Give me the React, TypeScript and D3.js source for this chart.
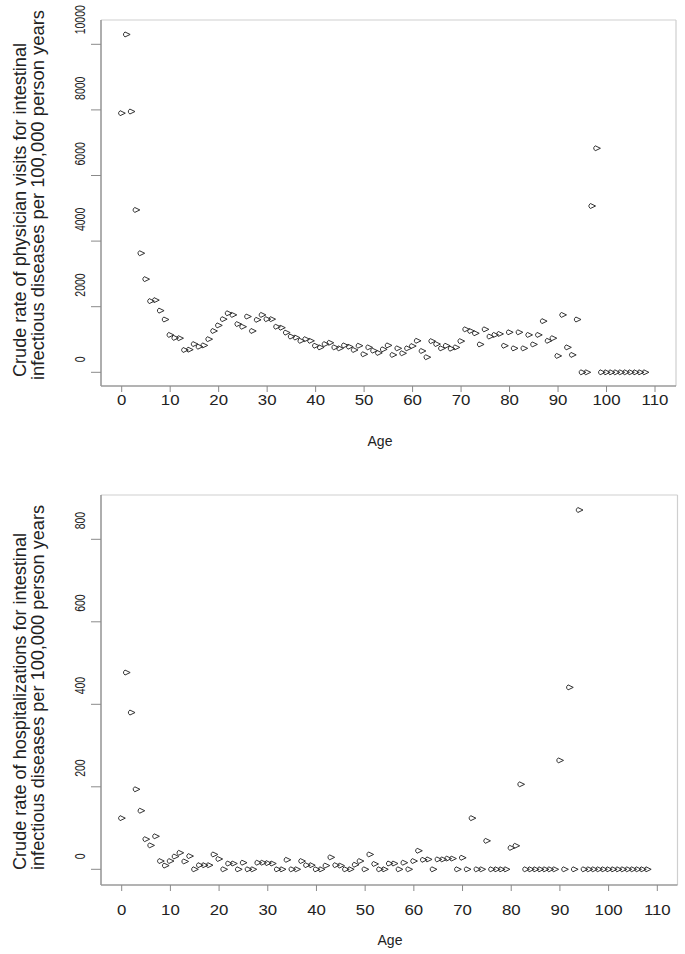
import React from "react";
import * as d3 from "d3";

const ages: number[] = Array.from({ length: 109 }, (_, i) => i);

const visitRates = [
  7900, 10300, 7950, 4950, 3630, 2840, 2170, 2200, 1880, 1610,
  1140, 1050, 1040, 680, 690, 860, 780, 820, 1010, 1260,
  1430, 1620, 1800, 1750, 1470, 1390, 1700, 1260, 1600, 1750,
  1620, 1620, 1390, 1360, 1210, 1090, 1060, 960, 1010, 960,
  810, 760, 860, 900, 760, 730, 820, 780, 680, 810,
  550, 760, 660, 590, 700, 820, 530, 730, 580, 730,
  800, 960, 650, 460, 950, 860, 730, 810, 720, 760,
  950, 1310, 1260, 1190, 850, 1310, 1090, 1140, 1170, 810,
  1220, 730, 1220, 730, 1140, 850, 1140, 1560, 960, 1040,
  500, 1750, 760, 530, 1610, 0, 0, 5070, 6830, 0,
  0, 0, 0, 0, 0, 0, 0, 0, 0,
];

const hospRates = [
  124, 477, 380, 194, 142, 73, 58, 80, 20, 9,
  20, 31, 40, 19, 32, 0, 10, 10, 10, 36,
  25, 0, 14, 14, 0, 16, 0, 0, 16, 16,
  15, 14, 0, 0, 23, 0, 0, 20, 10, 10,
  0, 0, 9, 29, 10, 9, 0, 0, 11, 20,
  0, 36, 13, 0, 0, 14, 14, 0, 16, 0,
  20, 45, 23, 24, 0, 24, 24, 26, 26, 0,
  28, 0, 124, 0, 0, 69, 0, 0, 0, 0,
  52, 57, 206, 0, 0, 0, 0, 0, 0, 0,
  264, 0, 441, 0, 871, 0, 0, 0, 0, 0,
  0, 0, 0, 0, 0, 0, 0, 0, 0,
];

const xTicks = [0, 10, 20, 30, 40, 50, 60, 70, 80, 90, 100, 110];
const visitTicks = [0, 2000, 4000, 6000, 8000, 10000];
const hospTicks = [0, 200, 400, 600, 800];

const visitTitle = [
  "Crude rate of physician visits for intestinal",
  "infectious diseases per 100,000 person years",
];
const hospTitle = [
  "Crude rate of hospitalizations for intestinal",
  "infectious diseases per 100,000 person years",
];
const xTitle = "Age";

const FONT = "Liberation Sans, Arial, Helvetica, sans-serif";
const TEXT = "#222";
const MARK = "#333";

const markerPath = "M-3,-0.8 L-1.6,-2.5 L3.6,0 L-1.6,2.5 L-3,0.8 Z";

type PanelProps = {
  values: number[];
  yTicks: number[];
  yDomain: [number, number];
  yRange: [number, number];
  xRange: [number, number];
  box: { left: number; top: number; right: number; bottom: number };
  title: string[];
  titleStart: [number, number];
  titleLen: [number, number];
  titleX: [number, number];
  tickLabelBaseline: number;
  ageX: number;
  ageY: number;
};

function Panel(p: PanelProps) {
  const x = d3.scaleLinear().domain([0, 110]).range(p.xRange);
  const y = d3.scaleLinear().domain(p.yDomain).range(p.yRange);
  const { left, top, right, bottom } = p.box;
  return (
    <g>
      <line x1={left} y1={top} x2={right} y2={top} stroke="#cfcfcf" strokeWidth={1.2} />
      <line x1={right} y1={top} x2={right} y2={bottom} stroke="#cfcfcf" strokeWidth={1.2} />
      <line x1={left} y1={top} x2={left} y2={bottom} stroke="#9a9a9a" strokeWidth={1.6} />
      <line x1={left} y1={bottom} x2={right} y2={bottom} stroke="#9a9a9a" strokeWidth={1.6} />
      {p.yTicks.map((t) => (
        <g key={"y" + t}>
          <line x1={left - 10} x2={left} y1={y(t)} y2={y(t)} stroke="#8a8a8a" strokeWidth={1} />
          <text
            transform={`translate(85,${y(t) - 10}) rotate(-90) scale(0.75,1)`}
            fontSize={14}
            fill={TEXT}
            textAnchor="start"
          >
            {t}
          </text>
        </g>
      ))}
      {xTicks.map((t) => (
        <g key={"x" + t}>
          <line x1={x(t)} x2={x(t)} y1={bottom} y2={bottom + 6} stroke="#8a8a8a" strokeWidth={1} />
          <text
            transform={`translate(${x(t)},${p.tickLabelBaseline}) scale(1.2,1)`}
            fontSize={14}
            fill={TEXT}
            textAnchor="middle"
          >
            {t}
          </text>
        </g>
      ))}
      {p.values.map((v, i) => (
        <path
          key={"p" + i}
          d={markerPath}
          transform={`translate(${x(ages[i])},${y(v)})`}
          fill="none"
          stroke={MARK}
          strokeWidth={1}
        />
      ))}
      {p.title.map((line, i) => (
        <text
          key={"t" + i}
          transform={`translate(${p.titleX[i]},${p.titleStart[i]}) rotate(-90)`}
          fontSize={19}
          fill={TEXT}
          textAnchor="start"
          textLength={p.titleLen[i]}
          lengthAdjust="spacingAndGlyphs"
        >
          {line}
        </text>
      ))}
      <text x={p.ageX} y={p.ageY} fontSize={14} fill={TEXT} textAnchor="middle">
        {xTitle}
      </text>
    </g>
  );
}

export default function App() {
  return (
    <svg
      width={685}
      height={954}
      style={{ position: "absolute", left: 0, top: 0, background: "#fff" }}
      fontFamily={FONT}
    >
      <rect x={0} y={0} width={685} height={954} fill="#fff" />
      <Panel
        values={visitRates}
        yTicks={visitTicks}
        yDomain={[0, 10000]}
        yRange={[372.3, 44.3]}
        xRange={[121.7, 655]}
        box={{ left: 101, top: 20, right: 676, bottom: 386 }}
        title={visitTitle}
        titleStart={[377, 380]}
        titleLen={[334, 370]}
        titleX={[26, 44]}
        tickLabelBaseline={405}
        ageX={380}
        ageY={446}
      />
      <Panel
        values={hospRates}
        yTicks={hospTicks}
        yDomain={[0, 800]}
        yRange={[869.3, 539.3]}
        xRange={[121.7, 657.3]}
        box={{ left: 101, top: 495, right: 677.5, bottom: 885 }}
        title={hospTitle}
        titleStart={[870, 870]}
        titleLen={[337, 365]}
        titleX={[26, 44]}
        tickLabelBaseline={915}
        ageX={390}
        ageY={945}
      />
    </svg>
  );
}
